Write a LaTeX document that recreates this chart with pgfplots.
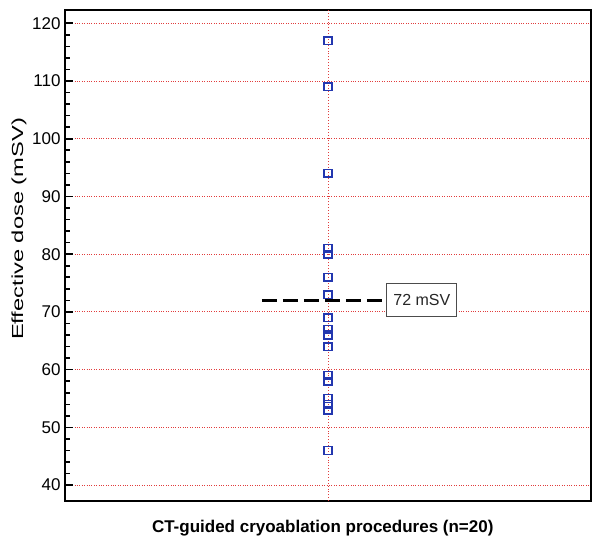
\documentclass[border=0pt]{standalone}
\usepackage{fontspec}
\setmainfont{Liberation Sans}
\usepackage{pgfplots}
\pgfplotsset{compat=1.18}
\definecolor{gridred}{RGB}{225,60,60}
\definecolor{markblue}{RGB}{35,55,175}
\begin{document}
\begin{tikzpicture}[x=1pt,y=1pt]
\useasboundingbox (-65,-51) rectangle (535,501);
\begin{axis}[
  at={(0,0)}, anchor=south west,
  scale only axis,
  width=526pt, height=491pt,
  xmin=0, xmax=2,
  ymin=37.25, ymax=122.3,
  axis line style={line width=2.2pt},
  xtick=\empty,
  ytick={40,50,...,120},
  minor y tick num=4,
  ytick pos=left,
  tick align=inside,
  major tick length=8pt,
  minor tick length=5pt,
  tick style={black, line width=1.6pt},
  /pgf/number format/assume math mode=true,
  ticklabel style={font=\fontsize{17}{20}\selectfont},
  yticklabel style={xshift=-1pt},
  ymajorgrids=true,
  grid style={gridred, dotted, line width=0.9pt},
  xlabel={\bfseries CT-guided cryoablation procedures (n=20)},
  xlabel style={font=\fontsize{17}{20}\selectfont, at={(axis description cs:0.49,0)}, anchor=center, yshift=-27pt},
  ylabel={\scalebox{1.48}[1]{Effective dose (mSV)}},
  ylabel style={font=\fontsize{16}{19}\selectfont, at={(axis description cs:-0.0875,0.554)}, anchor=center},
  clip=false,
]
\addplot[gridred, dotted, line width=0.9pt] coordinates {(1,37.25) (1,122.3)};
\addplot[only marks, mark=square, mark size=3.8pt, mark options={draw=markblue, line width=1.5pt, fill=white}]
  coordinates {
  (1,117) (1,109) (1,94) (1,81) (1,80) (1,76) (1,73) (1,73) (1,73) (1,73)
  (1,69) (1,67) (1,66) (1,64) (1,59) (1,58) (1,55) (1,54) (1,53) (1,46)
  };
\addplot[black, line width=2.6pt, dash pattern=on 15pt off 6pt] coordinates {(0.749,72) (1.205,72)};
\node[draw=black!70, line width=1pt, fill=white, minimum width=70pt, minimum height=33pt, inner sep=2pt,
  font=\fontsize{16}{19}\selectfont, text=black!85] at (axis cs:1.357,72) {72 mSV};
\end{axis}
\end{tikzpicture}
\end{document}
